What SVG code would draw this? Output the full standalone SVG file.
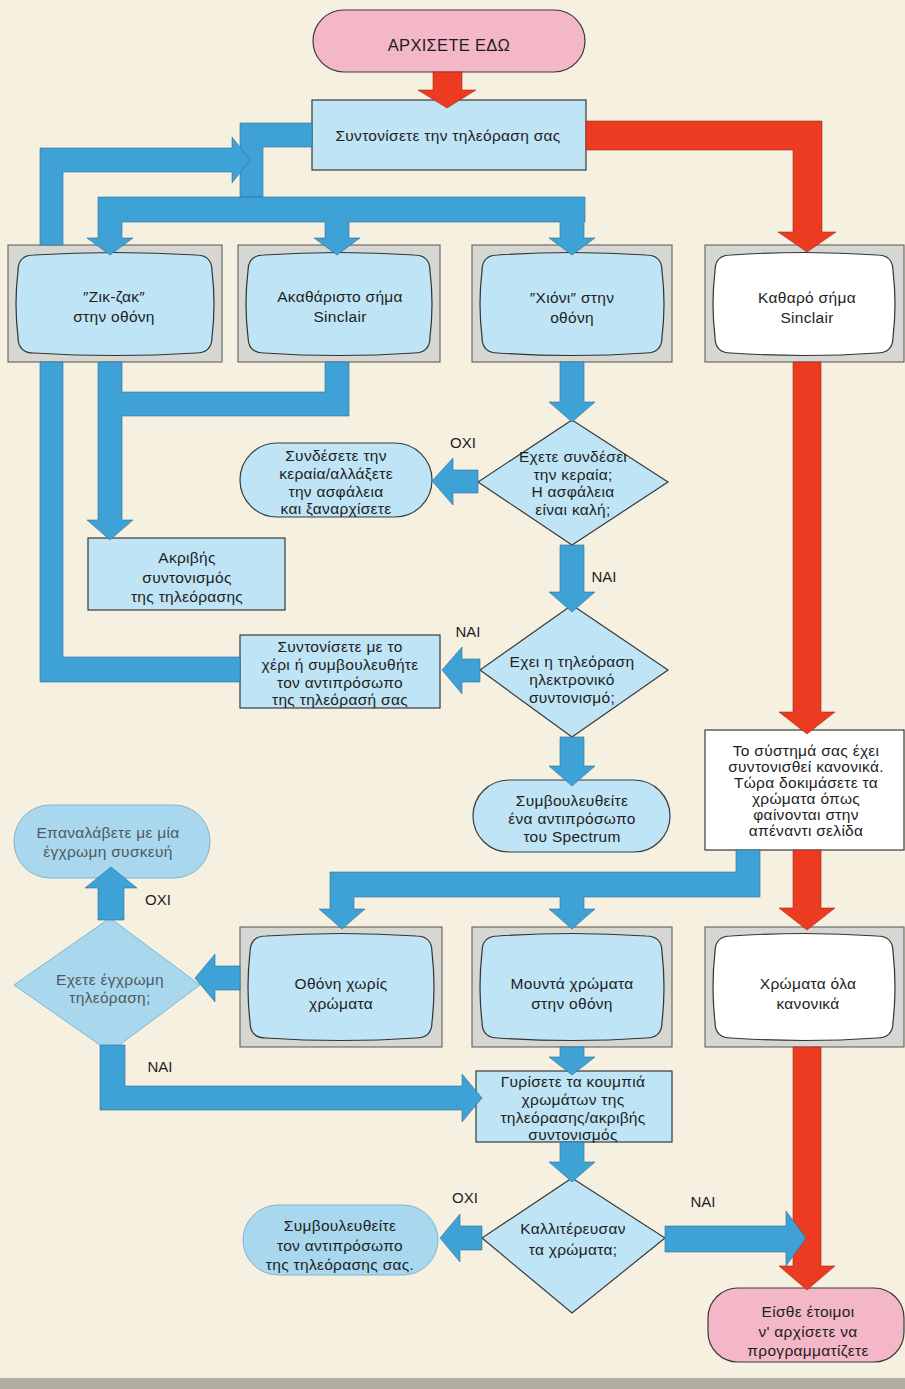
<svg xmlns="http://www.w3.org/2000/svg" width="905" height="1389" viewBox="0 0 905 1389">
<defs>
<style>
.bg{fill:#f6f0e0}
.pipe{fill:#3fa2d6;stroke:#2c6f95;stroke-width:0.6}
.red{fill:#ec3b21;stroke:#9c2a18;stroke-width:0.6}
.box{fill:#bfe4f5;stroke:#3a3a3a;stroke-width:1.2}
.boxw{fill:#ffffff;stroke:#3a3a3a;stroke-width:1.2}
.pink{fill:#f3b7c8;stroke:#3a3a3a;stroke-width:1.2}
.frame{fill:#d6d6d2;stroke:#555;stroke-width:1}
.scr{fill:#bfe4f5;stroke:#333;stroke-width:1.2}
.scrw{fill:#ffffff;stroke:#333;stroke-width:1.2}
.soft{fill:#a9d8ee;stroke:#7fb6d0;stroke-width:1}
text{font-family:"Liberation Sans",Arial,sans-serif;font-size:15.5px;letter-spacing:0.3px;fill:#1e1e1e;text-anchor:middle}
.lbl{font-size:15px;letter-spacing:0}
.faded{fill:#4f5a60}
.big{font-size:16.5px}
.sm{font-size:15px}
</style>
</defs>
<rect class="bg" x="0" y="0" width="905" height="1389"/>
<rect x="0" y="1378" width="905" height="11" fill="#b3aea3"/>

<g id="nodes">
<g id="start"><rect class="pink" x="313" y="10" width="272" height="62" rx="31"/><text class="big" x="449" y="51">ΑΡΧΙΣΕΤΕ ΕΔΩ</text></g>
<g id="tune"><rect class="box" x="312" y="100" width="274" height="70"/><text x="448" y="141">Συντονίσετε την τηλεόραση σας</text></g>

<g id="tv-zigzag"><rect class="frame" x="8" y="245" width="214" height="117"/>
<path class="scr" d="M34,255 Q115,250 196,255 Q212,255 212,271 Q216,304 212,337 Q212,353 196,353 Q115,358 34,353 Q18,353 18,337 Q14,304 18,271 Q18,255 34,255Z"/>
<text x="114" y="302">″Ζικ-ζακ″</text><text x="114" y="322">στην οθόνη</text></g>

<g id="tv-blur"><rect class="frame" x="238" y="245" width="202" height="117"/>
<path class="scr" d="M264,255 Q339,250 414,255 Q430,255 430,271 Q434,304 430,337 Q430,353 414,353 Q339,358 264,353 Q248,353 248,337 Q244,304 248,271 Q248,255 264,255Z"/>
<text x="340" y="302">Ακαθάριστο σήμα</text><text x="340" y="322">Sinclair</text></g>

<g id="tv-snow"><rect class="frame" x="472" y="245" width="200" height="117"/>
<path class="scr" d="M498,255 Q572,250 646,255 Q662,255 662,271 Q666,304 662,337 Q662,353 646,353 Q572,358 498,353 Q482,353 482,337 Q478,304 482,271 Q482,255 498,255Z"/>
<text x="572" y="303">″Χιόνι″ στην</text><text x="572" y="323">οθόνη</text></g>

<g id="tv-clear"><rect class="frame" x="705" y="245" width="199" height="117"/>
<path class="scrw" d="M731,255 Q804,250 877,255 Q893,255 893,271 Q897,304 893,337 Q893,353 877,353 Q804,358 731,353 Q715,353 715,337 Q711,304 715,271 Q715,255 731,255Z"/>
<text x="807" y="303">Καθαρό σήμα</text><text x="807" y="323">Sinclair</text></g>

<g id="connect-antenna"><rect class="box" x="240" y="443" width="192" height="74" rx="37"/>
<text x="336" y="461">Συνδέσετε την</text><text x="336" y="479">κεραία/αλλάξετε</text><text x="336" y="497">την ασφάλεια</text><text x="336" y="514">και ξαναρχίσετε</text></g>

<g id="q-antenna"><polygon class="box" points="572,420 668,482 572,545 478,482"/>
<text x="573" y="462">Εχετε συνδέσει</text><text x="573" y="480">την κεραία;</text><text x="573" y="497">Η ασφάλεια</text><text x="573" y="515">είναι καλή;</text></g>

<g id="fine-tune"><rect class="box" x="88" y="538" width="197" height="72" stroke-width="0.8"/>
<text x="187" y="563">Ακριβής</text><text x="187" y="583">συντονισμός</text><text x="187" y="602">της τηλεόρασης</text></g>

<g id="manual"><rect class="box" x="240" y="635" width="200" height="73"/>
<text x="340" y="652">Συντονίσετε με το</text><text x="340" y="670">χέρι ή συμβουλευθήτε</text><text x="340" y="688">τον αντιπρόσωπο</text><text x="340" y="705">της τηλεόρασή σας</text></g>

<g id="q-electronic"><polygon class="box" points="572,605 668,670 572,737 480,670"/>
<text x="572" y="667">Εχει η τηλεόραση</text><text x="572" y="685">ηλεκτρονικό</text><text x="572" y="703">συντονισμό;</text></g>

<g id="spectrum"><rect class="box" x="473" y="780" width="197" height="72" rx="36"/>
<text x="572" y="806">Συμβουλευθείτε</text><text x="572" y="824">ένα αντιπρόσωπο</text><text x="572" y="842">του Spectrum</text></g>

<g id="tuned"><rect class="boxw" x="705" y="730" width="199" height="120"/>
<text x="806" y="756">Το σύστημά σας έχει</text><text x="806" y="772">συντονισθεί κανονικά.</text><text x="806" y="788">Τώρα δοκιμάσετε τα</text><text x="806" y="804">χρώματα όπως</text><text x="806" y="820">φαίνονται στην</text><text x="806" y="836">απέναντι σελίδα</text></g>

<g id="repeat"><rect class="soft" x="14" y="805" width="196" height="73" rx="36"/>
<text class="faded" x="108" y="838">Επαναλάβετε με μία</text><text class="faded" x="108" y="857">έγχρωμη συσκευή</text></g>

<g id="q-colour"><polygon class="soft" points="110,918 200,985 110,1052 14,985"/>
<text class="faded" x="110" y="985">Εχετε έγχρωμη</text><text class="faded" x="110" y="1003">τηλεόραση;</text></g>

<g id="tv-nocolour"><rect class="frame" x="240" y="927" width="202" height="120"/>
<path class="scr" d="M266,936 Q341,931 416,936 Q432,936 432,952 Q436,987 432,1022 Q432,1038 416,1038 Q341,1043 266,1038 Q250,1038 250,1022 Q246,987 250,952 Q250,936 266,936Z"/>
<text x="341" y="989">Οθόνη χωρίς</text><text x="341" y="1009">χρώματα</text></g>

<g id="tv-dull"><rect class="frame" x="472" y="927" width="200" height="120"/>
<path class="scr" d="M498,936 Q572,931 646,936 Q662,936 662,952 Q666,987 662,1022 Q662,1038 646,1038 Q572,1043 498,1038 Q482,1038 482,1022 Q478,987 482,952 Q482,936 498,936Z"/>
<text x="572" y="989">Μουντά χρώματα</text><text x="572" y="1009">στην οθόνη</text></g>

<g id="tv-ok"><rect class="frame" x="705" y="927" width="199" height="120"/>
<path class="scrw" d="M731,936 Q804,931 877,936 Q893,936 893,952 Q897,987 893,1022 Q893,1038 877,1038 Q804,1043 731,1038 Q715,1038 715,1022 Q711,987 715,952 Q715,936 731,936Z"/>
<text x="808" y="989">Χρώματα όλα</text><text x="808" y="1009">κανονικά</text></g>

<g id="adjust"><rect class="box" x="476" y="1071" width="196" height="71"/>
<text x="573" y="1087">Γυρίσετε τα κουμπιά</text><text x="573" y="1105">χρωμάτων της</text><text x="573" y="1123">τηλεόρασης/ακριβής</text><text x="573" y="1140">συντονισμός</text></g>

<g id="q-better"><polygon class="box" points="572,1178 665,1238 572,1313 482,1238"/>
<text x="573" y="1234">Καλλιτέρευσαν</text><text x="573" y="1255">τα χρώματα;</text></g>

<g id="dealer"><rect class="soft" x="243" y="1205" width="195" height="70" rx="35" stroke="#3a3a3a"/>
<text x="340" y="1231">Συμβουλευθείτε</text><text x="340" y="1251">τον αντιπρόσωπο</text><text x="340" y="1270">της τηλεόρασης σας.</text></g>

<g id="end"><rect class="pink" x="708" y="1288" width="196" height="74" rx="30"/>
<text x="808" y="1317">Είσθε έτοιμοι</text><text x="808" y="1337">ν' αρχίσετε να</text><text x="808" y="1356">προγραμματίζετε</text></g>
</g>

<g id="connectors">
<polygon class="red" points="433,72 462,72 462,90 476,90 447,108 418,90 433,90"/>
<polygon class="red" points="586,121 822,121 822,232 836,232 807,252 778,232 793,232 793,150 586,150"/>
<polygon class="red" points="793,362 821,362 821,712 835,712 807,734 779,712 793,712"/>
<polygon class="red" points="793,850 821,850 821,908 835,908 807,930 779,908 793,908"/>
<polygon class="red" points="793,1047 821,1047 821,1266 835,1266 807,1290 779,1266 793,1266"/>

<polygon class="pipe" points="312,123 240,123 240,197 263,197 263,147 312,147"/>
<polygon class="pipe" points="98,197 585,197 585,222 584,222 584,238 595,238 572,255 549,238 560,238 560,222 349,222 349,238 360,238 337,255 314,238 325,238 325,222 122,222 122,238 133,238 110,255 87,238 98,238"/>
<polygon class="pipe" points="40,245 40,148 232,148 232,137 250,160 232,183 232,172 63,172 63,245"/>
<polygon class="pipe" points="40,362 63,362 63,657 240,657 240,682 40,682"/>

<polygon class="pipe" points="98,362 122,362 122,392 325,392 325,362 349,362 349,416 122,416 122,520 133,520 110,540 87,520 98,520"/>
<polygon class="pipe" points="560,362 584,362 584,402 595,402 572,422 549,402 560,402"/>
<polygon class="pipe" points="478,470 453,470 453,458 432,481 453,505 453,493 478,493"/>
<polygon class="pipe" points="560,545 584,545 584,592 595,592 572,612 549,592 560,592"/>
<polygon class="pipe" points="480,659 462,659 462,647 442,670 462,694 462,682 480,682"/>
<polygon class="pipe" points="560,737 584,737 584,766 595,766 572,786 549,766 560,766"/>

<polygon class="pipe" points="736,850 760,850 760,897 584,897 584,909 595,909 572,929 549,909 560,909 560,897 354,897 354,909 365,909 342,929 319,909 330,909 330,872 736,872"/>
<polygon class="pipe" points="240,966 215,966 215,954 195,978 215,1002 215,990 240,990"/>
<polygon class="pipe" points="98,920 124,920 124,888 137,888 111,867 85,888 98,888"/>
<polygon class="pipe" points="100,1045 125,1045 125,1086 462,1086 462,1074 482,1098 462,1122 462,1110 100,1110"/>
<polygon class="pipe" points="560,1047 584,1047 584,1057 595,1057 572,1075 549,1057 560,1057"/>
<polygon class="pipe" points="560,1142 584,1142 584,1162 595,1162 572,1182 549,1162 560,1162"/>
<polygon class="pipe" points="482,1226 460,1226 460,1214 440,1238 460,1262 460,1250 482,1250"/>
<polygon class="pipe" points="665,1226 786,1226 786,1211 806,1238 786,1266 786,1252 665,1252"/>
</g>

<g id="labels">
<text class="lbl" x="463" y="448">ΟΧΙ</text>
<text class="lbl" x="604" y="582">ΝΑΙ</text>
<text class="lbl" x="468" y="637">ΝΑΙ</text>
<text class="lbl" x="158" y="905">ΟΧΙ</text>
<text class="lbl" x="160" y="1072">ΝΑΙ</text>
<text class="lbl" x="465" y="1203">ΟΧΙ</text>
<text class="lbl" x="703" y="1207">ΝΑΙ</text>
</g>
</svg>
